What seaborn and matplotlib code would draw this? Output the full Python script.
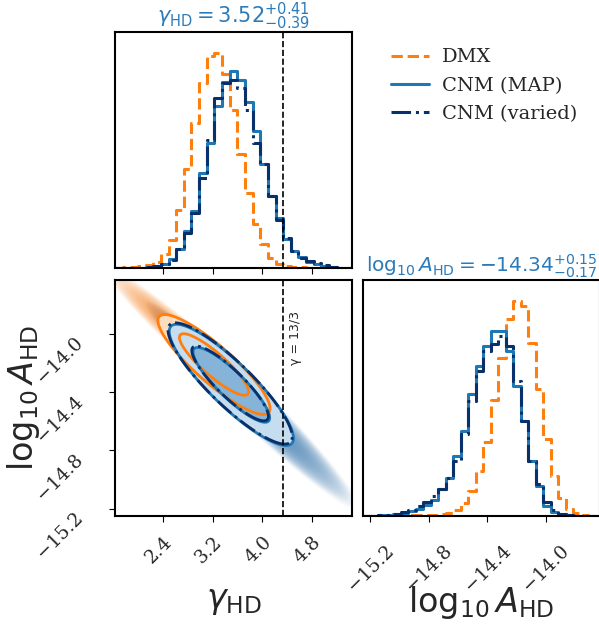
import numpy as np
import pandas as pd
import matplotlib
matplotlib.use("Agg")
import matplotlib.pyplot as plt
import seaborn as sns
from matplotlib.colors import to_rgb
from matplotlib.lines import Line2D

sns.set_theme(style="ticks")
plt.rcParams["font.family"] = ["DejaVu Sans"]
plt.rcParams["mathtext.fontset"] = "dejavusans"

# ---------------------------------------------------------------- data
series_names = ["DMX", "CNM (MAP)", "CNM (varied)"]

gamma_lim = (1.62, 5.45)
loga_lim = (-15.25, -13.63)
gamma_ticks = [2.4, 3.2, 4.0, 4.8]
loga_ticks = [-15.2, -14.8, -14.4, -14.0]
gamma_ref = 13 / 3

# marginal histograms: counts per bin (31 equal bins over the bin range)
gamma_bin_range = (1.62, 5.45)
loga_bin_range = (-15.25, -13.66)

gamma_dmx = [0.5, 1, 1, 2, 3, 6, 14, 28, 58, 99, 145, 185, 212, 215, 194, 158,
             114, 75, 44, 24, 10, 4, 2, 1, 1, 0.5, 0.5, 0.3, 0.2, 0.1, 0.1]
gamma_map = [0.2, 0.3, 0.5, 0.5, 1, 2, 4, 9, 19, 37, 57, 95, 125, 162, 186, 197,
             188, 166, 137, 104, 72, 50, 29, 17, 11, 6, 4, 2, 1, 0.5, 0.3]
gamma_var = [0.2, 0.3, 0.5, 0.5, 1, 2, 4, 8, 19, 35, 55, 90, 128, 170, 185, 188,
             180, 158, 125, 104, 72, 48, 30, 17, 10, 7, 5, 3, 1, 0.5, 0.3]

loga_dmx = [0.5, 0.5, 0.5, 0.5, 0.5, 0.5, 1, 1, 1, 1.5, 2, 3, 6, 13, 25, 45,
            74, 116, 158, 197, 215, 210, 173, 127, 77, 40, 18, 7, 3, 1.5, 0.5]
loga_map = [0.3, 0.5, 1, 1.5, 2.5, 3.5, 5, 7, 11, 16, 27, 38, 60, 85, 122, 150,
            170, 185, 185, 165, 130, 95, 55, 30, 10, 4, 2, 1, 0.5, 0.3, 0.2]
loga_var = [0.3, 0.5, 1, 1.5, 2, 4, 6, 10, 14, 20, 27, 38, 55, 82, 115, 145,
            165, 172, 180, 170, 135, 95, 55, 32, 14, 6, 2.5, 1, 0.5, 0.3, 0.2]

# joint posterior summaries (Gaussian approximation) per run
mean_gamma = [3.22, 3.50, 3.48]
mean_loga = [-14.21, -14.35, -14.34]
sigma_gamma = [0.37, 0.41, 0.41]
sigma_loga = [0.14, 0.17, 0.17]
corr = [-0.88, -0.88, -0.88]
cred_levels = [0.68, 0.95]

# sample tails beyond the 95% region: elongated, with uneven reach
# toward low gamma / high amplitude ("upper") and the opposite side ("lower")
tail_scale = 1.2
tail_corr = -0.975
tail_reach_upper = [16.0, 8.0, 8.0]
tail_reach_lower = [9.0, 18.0, 16.0]

title_gamma = r"$\gamma_{\rm HD} = 3.52^{+0.41}_{-0.39}$"
title_loga = r"$\log_{10} A_{\rm HD} = -14.34^{+0.15}_{-0.17}$"
label_gamma = r"$\gamma_{\rm HD}$"
label_loga = r"$\log_{10} A_{\rm HD}$"

# ---------------------------------------------------------------- style
colors = ["#ff7f0e", "#1f77b4", "#08306b"]
hist_styles = ["--", "-", "-."]
contour_styles = ["-", "-", "-."]
cloud_colors = ["#f5842a", "#3a7db5", "#0b3d78"]
cloud_alpha = [0.75, 0.6, 0.3]
title_color = "#2b7bba"
fill_dmx = ["#fedcc0", "#fedcc0"]
fill_map = ["#85b4d8", "#c6ddf0"]

W, H = 599, 629
fig = plt.figure(figsize=(W / 100, H / 100), dpi=100)


def add_ax(x0, y0, x1, y1):
    return fig.add_axes([x0 / W, 1 - y1 / H, (x1 - x0) / W, (y1 - y0) / H])


ax_g = add_ax(115, 32, 352, 268)
ax_2d = add_ax(115, 280, 352, 516)
ax_a = add_ax(363, 280, 600, 516)

for ax in (ax_g, ax_2d, ax_a):
    for s in ax.spines.values():
        s.set_linewidth(1.5)
        s.set_color("black")
    ax.tick_params(direction="out", length=4, width=0.8, color="black")


def draw_hist(ax, values, brange, color, ls):
    edges = np.linspace(brange[0], brange[1], len(values) + 1)
    df = pd.DataFrame({"x": 0.5 * (edges[1:] + edges[:-1]),
                       "w": np.asarray(values, dtype=float)})
    sns.histplot(data=df, x="x", weights="w", bins=len(values), binrange=brange,
                 element="step", fill=False, color=color, linestyle=ls,
                 linewidth=2.2, ax=ax)


g_sets = [gamma_dmx, gamma_map, gamma_var]
a_sets = [loga_dmx, loga_map, loga_var]
for vals, c, ls in zip(g_sets, colors, hist_styles):
    draw_hist(ax_g, vals, gamma_bin_range, c, ls)
for vals, c, ls in zip(a_sets, colors, hist_styles):
    draw_hist(ax_a, vals, loga_bin_range, c, ls)

ax_g.set_xlim(gamma_lim)
ax_g.set_ylim(0, 1.1 * max(max(v) for v in g_sets))
ax_a.set_xlim(loga_lim)
ax_a.set_ylim(0, 1.1 * max(max(v) for v in a_sets))
ax_g.axvline(gamma_ref, color="black", ls="--", lw=1.2)

# ---------------------------------------------------------------- joint panel
gg, aa = np.meshgrid(np.linspace(*gamma_lim, 500), np.linspace(*loga_lim, 500))


def standardize(i, scale=1.0):
    z1 = (gg - mean_gamma[i]) / (sigma_gamma[i] * scale)
    z2 = (aa - mean_loga[i]) / (sigma_loga[i] * scale)
    return z1, z2


def mahal2(i, scale=1.0, rho=None):
    z1, z2 = standardize(i, scale)
    r = corr[i] if rho is None else rho
    return (z1 ** 2 + z2 ** 2 - 2 * r * z1 * z2) / (1 - r ** 2)


r2_levels = [-2 * np.log(1 - p) for p in cred_levels]
r2 = [mahal2(i) for i in range(3)]

# sample clouds beyond the credible regions
for i in (2, 1, 0):
    t2 = mahal2(i, tail_scale, tail_corr)
    z1, z2 = standardize(i, tail_scale)
    reach = np.where(z1 - z2 < 0, tail_reach_upper[i], tail_reach_lower[i])
    frac = np.clip((reach - t2) / (reach - 4.0), 0, 1)
    rgba = np.zeros(gg.shape + (4,))
    rgba[..., :3] = to_rgb(cloud_colors[i])
    rgba[..., 3] = cloud_alpha[i] * frac
    ax_2d.imshow(rgba, origin="lower", aspect="auto", interpolation="bilinear",
                 extent=(*gamma_lim, *loga_lim), zorder=1)

ax_2d.contourf(gg, aa, r2[0], levels=[0, r2_levels[0], r2_levels[1]],
               colors=fill_dmx, zorder=2)
ax_2d.contourf(gg, aa, r2[1], levels=[0, r2_levels[0], r2_levels[1]],
               colors=fill_map, zorder=3)
for i in range(3):
    ax_2d.contour(gg, aa, r2[i], levels=r2_levels, colors=[colors[i]],
                  linewidths=2.0, linestyles=contour_styles[i], zorder=4 + i)

ax_2d.axvline(gamma_ref, color="black", ls="--", lw=1.2, zorder=8)
ax_2d.annotate("γ = 13/3", xy=(gamma_ref, -14.03), xytext=(9, 0),
               textcoords="offset points", rotation=90, ha="center",
               va="center", fontsize=9, zorder=9)
ax_2d.set_xlim(gamma_lim)
ax_2d.set_ylim(loga_lim)

# ---------------------------------------------------------------- ticks & labels
def fmt(v):
    return f"{v:.1f}".replace("-", "\u2212")


tick_font = {"family": "DejaVu Serif", "size": 13.5}

ax_g.set_xticks(gamma_ticks)
ax_g.set_xticklabels([])
ax_g.set_yticks([])
ax_g.set_xlabel("")
ax_g.set_ylabel("")

ax_2d.set_xticks(gamma_ticks)
ax_2d.set_xticklabels([fmt(v) for v in gamma_ticks], rotation=45, ha="right",
                      rotation_mode="anchor", fontdict=tick_font)
ax_2d.set_yticks(loga_ticks)
ax_2d.set_yticklabels([fmt(v) for v in loga_ticks], rotation=45, ha="right",
                      va="top", rotation_mode="anchor", fontdict=tick_font)
ax_2d.tick_params(axis="x", pad=8)
ax_2d.tick_params(axis="y", pad=26)

ax_a.set_xticks(loga_ticks)
ax_a.set_xticklabels([fmt(v) for v in loga_ticks], rotation=45,
                     fontdict=tick_font)
ax_a.set_yticks([])
ax_a.set_ylabel("")
ax_a.tick_params(axis="x", pad=14)

ax_g.set_title(title_gamma, color=title_color, fontsize=15, pad=5)
ax_a.set_title(title_loga, color=title_color, fontsize=14.5, pad=5)

ax_2d.set_xlabel(label_gamma, fontsize=24)
ax_2d.xaxis.set_label_coords(0.5, -0.29)
ax_2d.set_ylabel(label_loga, fontsize=24)
ax_2d.yaxis.set_label_coords(-0.31, 0.5)
ax_a.set_xlabel(label_loga, fontsize=24)
ax_a.xaxis.set_label_coords(0.5, -0.29)

handles = [Line2D([], [], color=c, ls=ls, lw=2.2) for c, ls in zip(colors, hist_styles)]
fig.legend(handles, series_names, loc="upper left",
           bbox_to_anchor=(373 / W, 1 - 31 / H), frameon=False,
           prop={"family": "DejaVu Serif", "size": 14},
           handlelength=2.0, handletextpad=0.65, labelspacing=0.52)

fig.savefig("out.png", dpi=100)
